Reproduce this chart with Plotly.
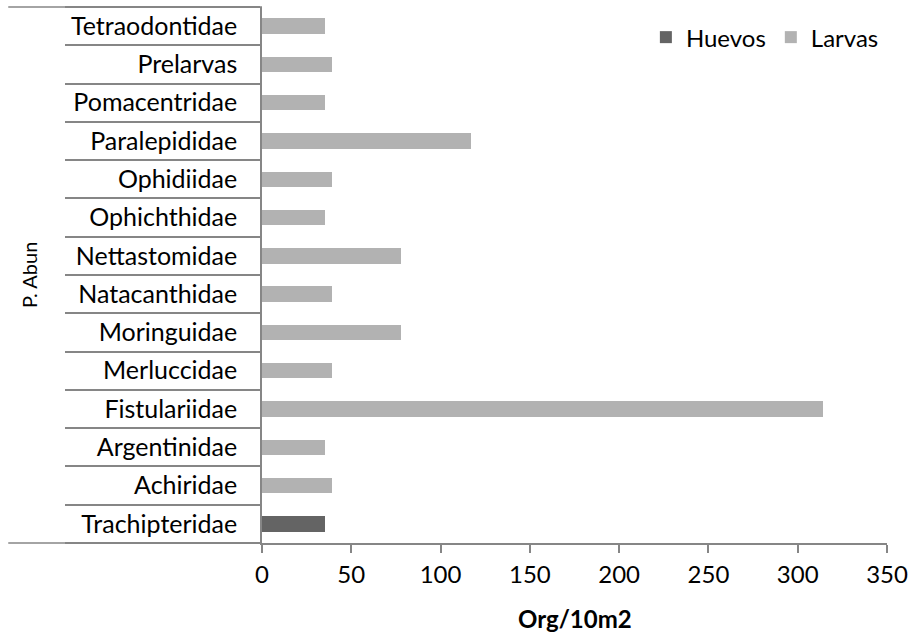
import plotly.graph_objects as go

# categorías de abajo hacia arriba (como se ven en el eje)
familias = ["Trachipteridae", "Achiridae", "Argentinidae", "Fistulariidae",
            "Merluccidae", "Moringuidae", "Natacanthidae", "Nettastomidae",
            "Ophichthidae", "Ophidiidae", "Paralepididae", "Pomacentridae",
            "Prelarvas", "Tetraodontidae"]
huevos = [35, None, None, None, None, None, None, None,
          None, None, None, None, None, None]
larvas = [None, 39, 35, 314, 39, 78, 39, 78,
          35, 39, 117, 35, 39, 35]
x_ticks = [0, 50, 100, 150, 200, 250, 300, 350]

FONT = "Lato"
GRIS = "#868686"

fig = go.Figure()
fig.add_trace(go.Bar(y=familias, x=huevos, name="Huevos", orientation="h",
                     marker=dict(color="#646464", line=dict(width=0))))
fig.add_trace(go.Bar(y=familias, x=larvas, name="Larvas", orientation="h",
                     marker=dict(color="#B2B2B2", line=dict(width=0))))

fig.update_layout(
    width=911, height=637,
    margin=dict(l=262, r=24, t=7, b=94),
    barmode="stack",
    bargap=0.6,
    plot_bgcolor="white",
    paper_bgcolor="white",
    font=dict(family=FONT, size=25, color="#000000"),
    showlegend=True,
    legend=dict(orientation="h", x=0.995, xanchor="right", y=0.985, yanchor="top",
                font=dict(size=24), bgcolor="rgba(0,0,0,0)",
                itemwidth=30, traceorder="normal"),
)

fig.update_xaxes(
    range=[0, 350], tickvals=x_ticks, ticktext=[str(v) for v in x_ticks],
    showgrid=False, zeroline=False, automargin=False,
    showline=True, linecolor=GRIS, linewidth=1.5,
    ticks="outside", ticklen=8, tickcolor=GRIS, tickwidth=1.5,
    ticklabelstandoff=1,
    tickfont=dict(size=24),
)
fig.update_yaxes(
    type="category", categoryorder="array", categoryarray=familias,
    showgrid=False, zeroline=False, automargin=False,
    showline=True, linecolor=GRIS, linewidth=1.5,
    ticks="outside", tickson="boundaries", ticklen=195, tickcolor=GRIS, tickwidth=1.5,
    ticklabelstandoff=18,
    tickfont=dict(size=25),
)

# prolongación de los bordes exteriores del eje de categorías
for yy in (0, 1):
    fig.add_shape(type="line", xref="paper", yref="paper",
                  x0=-0.406, x1=0, y0=yy, y1=yy,
                  line=dict(color=GRIS, width=1.5))

fig.add_annotation(text="<b>Org/10m2</b>", xref="paper", yref="paper",
                   x=0.5, y=-0.14, xanchor="center", yanchor="middle",
                   showarrow=False, font=dict(size=24))
fig.add_annotation(text="P. Abun", xref="paper", yref="paper",
                   x=-0.373, y=0.5, xanchor="center", yanchor="middle",
                   textangle=-90, showarrow=False, font=dict(size=20))

fig.write_html("out.html", config={"displayModeBar": False},
               post_script="document.body.style.margin='0';")
